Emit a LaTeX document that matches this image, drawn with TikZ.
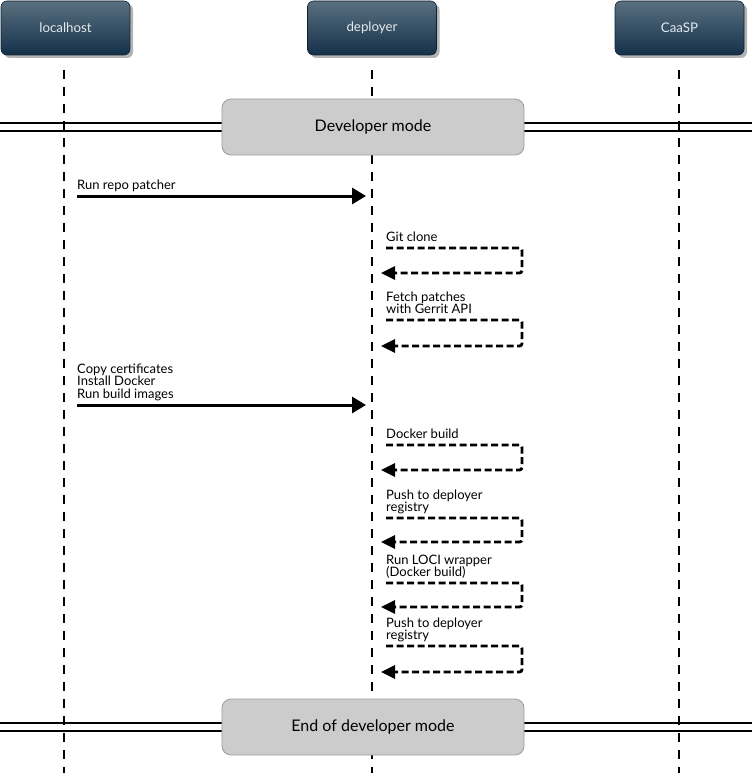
\documentclass[tikz,border=0pt]{standalone}
\usepackage{fontspec}
\setmainfont{Lato}
\usetikzlibrary{arrows.meta,shadows,calc}
\definecolor{hdtop}{HTML}{5A7080}
\definecolor{hdbot}{HTML}{14304A}
\definecolor{hdtext}{HTML}{E4EAEE}
\definecolor{boxgray}{HTML}{CCCCCC}
\definecolor{boxborder}{HTML}{9C9C9C}
\begin{document}
\begin{tikzpicture}[x=1pt,y=1pt,
  head/.style={rounded corners=6pt, top color=hdtop, bottom color=hdbot, draw=hdbot!70!black, line width=0.6pt,
    minimum width=129pt, minimum height=54pt, text=hdtext, font=\fontsize{13.3}{15}\selectfont,
    drop shadow={shadow xshift=3pt, shadow yshift=-3pt, fill=black!50, opacity=0.6}},
  lifeline/.style={line width=2.8pt, dash pattern=on 9pt off 8pt},
  sepline/.style={line width=1.8pt},
  modebox/.style={rounded corners=9pt, fill=boxgray, draw=boxborder, line width=0.8pt,
    minimum width=302pt, minimum height=56pt, font=\fontsize{16}{18}\selectfont},
  msg/.style={line width=3pt, -{Triangle[length=14pt,width=16pt]}},
  selfmsg/.style={line width=2.8pt, dash pattern=on 7pt off 3.5pt, rounded corners=2.5pt, -{Triangle[length=14pt,width=13pt]}},
  lbl/.style={anchor=south west, inner sep=0pt, align=left, font=\fontsize{13}{12.5}\selectfont}
]
\useasboundingbox (0,0) rectangle (752,-773);

% separator double lines
\coordinate (d1aL) at (0,-123);  \coordinate (d1aR) at (752,-123);
\coordinate (d1bL) at (0,-131);  \coordinate (d1bR) at (752,-131);
\coordinate (d2aL) at (0,-723);  \coordinate (d2aR) at (752,-723);
\coordinate (d2bL) at (0,-731);  \coordinate (d2bR) at (752,-731);
\draw[sepline] (d1aL) -- (d1aR);
\draw[sepline] (d1bL) -- (d1bR);
\draw[sepline] (d2aL) -- (d2aR);
\draw[sepline] (d2bL) -- (d2bR);

% headers
\node[head] (lh) at (65.5,-28) {localhost};
\node[head] (dp) at (372,-28) {deployer};
\node[head] (cs) at (679.5,-28) {CaaSP};

% lifelines
\coordinate (lhT) at (64,-70);   \coordinate (lhB) at (64,-773);
\coordinate (dpT) at (372,-70);  \coordinate (dpB) at (372,-773);
\coordinate (csT) at (679,-70);  \coordinate (csB) at (679,-773);
\draw[lifeline] (lhT) -- (lhB);
\draw[lifeline] (dpT) -- (dpB);
\draw[lifeline] (csT) -- (csB);

% mode boxes
\node[modebox] (dm) at (373,-127) {Developer mode};
\node[modebox] (edm) at (373,-727) {End of developer mode};

% message 1
\coordinate (m1a) at (77,-196); \coordinate (m1b) at (366,-196);
\draw[msg] (m1a) -- (m1b);
\node[lbl] (l1) at ($(m1a)+(0,2.5)$) {Run repo patcher\strut};

% self 1
\coordinate (s1a) at (386,-248); \coordinate (s1c) at (522,-273); \coordinate (s1b) at (381,-273);
\draw[selfmsg] (s1a) -| (s1c) -- (s1b);
\node[lbl] (ls1) at ($(s1a)+(0,2.25)$) {Git clone\strut};

% self 2
\coordinate (s2a) at (386,-320); \coordinate (s2c) at (522,-346); \coordinate (s2b) at (381,-346);
\draw[selfmsg] (s2a) -| (s2c) -- (s2b);
\node[lbl] (ls2) at ($(s2a)+(0,2.25)$) {Fetch patches\\with Gerrit API\strut};

% message 2
\coordinate (m2a) at (77,-405); \coordinate (m2b) at (366,-405);
\draw[msg] (m2a) -- (m2b);
\node[lbl] (l2) at ($(m2a)+(0,2.75)$) {Copy certificates\\Install Docker\\Run build images\strut};

% self 3
\coordinate (s3a) at (386,-445); \coordinate (s3c) at (522,-470); \coordinate (s3b) at (381,-470);
\draw[selfmsg] (s3a) -| (s3c) -- (s3b);
\node[lbl] (ls3) at ($(s3a)+(0,2.25)$) {Docker build\strut};

% self 4
\coordinate (s4a) at (386,-518); \coordinate (s4c) at (522,-542); \coordinate (s4b) at (381,-542);
\draw[selfmsg] (s4a) -| (s4c) -- (s4b);
\node[lbl] (ls4) at ($(s4a)+(0,2.25)$) {Push to deployer\\registry\strut};

% self 5
\coordinate (s5a) at (386,-583); \coordinate (s5c) at (522,-607); \coordinate (s5b) at (381,-607);
\draw[selfmsg] (s5a) -| (s5c) -- (s5b);
\node[lbl] (ls5) at ($(s5a)+(0,2.25)$) {Run LOCI wrapper\\(Docker build)\strut};

% self 6
\coordinate (s6a) at (386,-646); \coordinate (s6c) at (522,-672); \coordinate (s6b) at (381,-672);
\draw[selfmsg] (s6a) -| (s6c) -- (s6b);
\node[lbl] (ls6) at ($(s6a)+(0,2.25)$) {Push to deployer\\registry\strut};
\end{tikzpicture}
\end{document}
